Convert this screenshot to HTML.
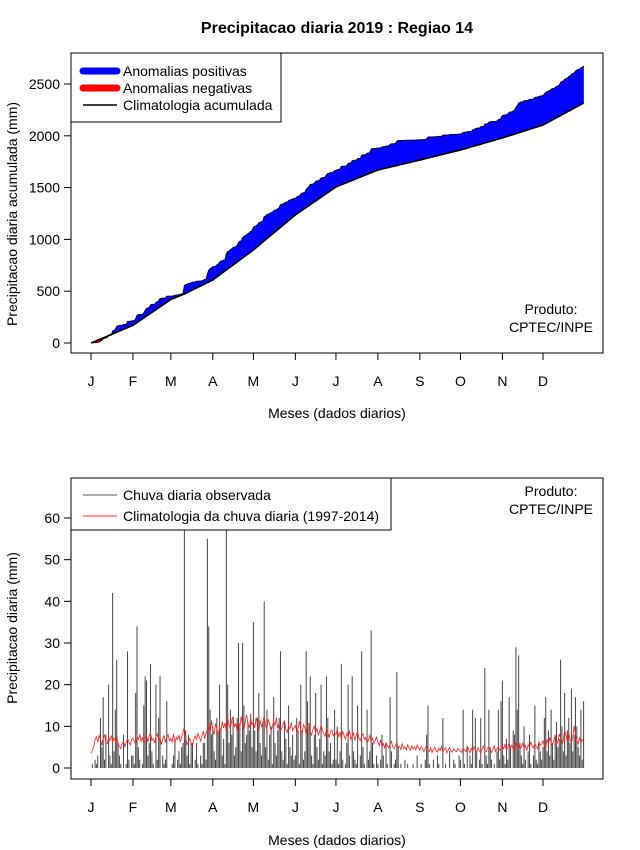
<!DOCTYPE html>
<html><head><meta charset="utf-8"><style>
body{margin:0;background:#fff;}
svg{display:block;font-family:"Liberation Sans",sans-serif;}
</style></head><body>
<svg id="chart" width="640" height="850" xmlns="http://www.w3.org/2000/svg">
<rect width="640" height="850" fill="#fff"/>
<text x="337" y="33" text-anchor="middle" font-size="16" font-weight="bold">Precipitacao diaria 2019 : Regiao 14</text>
<g id="topPanel"></g>
<g id="botPanel"></g>
</svg>
<script>
const monthLabels = ["J","F","M","A","M","J","J","A","S","O","N","D"];
const monthStartDays = [1,32,60,91,121,152,182,213,244,274,305,335];
const topTicks = [0,500,1000,1500,2000,2500];
const botTicks = [0,10,20,30,40,50,60];
const climAccumDays = [1,32,60,70,91,121,152,182,213,244,274,305,335,365];
const climAccum = [0,170,420,473,608,898,1236,1506,1670,1766,1863,1979,2104,2316];
const rain = [
0,1,0,2,1,3,0,12,5,17,2,8,0,20,3,1,42,4,14,26,6,3,1,0,8,0,1,28,2,0,3,
3,1,18,34,5,2,0,1,15,22,21,3,6,25,4,1,0,20,2,12,22,0,3,1,2,16,0,0,
0,1,3,6,0,2,4,1,5,6,75,9,3,8,1,6,6,0,2,6,1,0,3,1,6,6,2,55,34,14,8,
10,4,2,12,8,20,9,3,7,1,60,20,6,14,8,12,3,5,12,30,10,4,30,15,6,8,11,9,13,5,
35,9,4,12,18,6,3,11,40,5,14,2,8,10,1,17,6,3,9,12,28,4,2,11,7,1,15,5,3,8,2,
3,12,9,1,20,9,2,4,28,16,10,22,3,1,8,18,5,2,7,20,1,4,3,22,12,4,6,1,2,14,
2,10,1,4,25,2,0,1,6,20,3,0,22,4,2,1,15,0,3,28,5,1,0,14,2,4,33,6,1,0,3,
1,0,2,8,3,0,6,1,0,17,4,0,1,2,23,5,0,1,0,0,2,0,1,0,0,0,1,0,0,3,0,
0,1,0,0,2,8,15,1,0,0,2,0,0,3,1,0,0,12,0,1,0,0,4,0,0,2,1,0,0,3,
2,0,14,1,0,5,0,3,1,14,0,12,4,0,2,12,1,0,24,3,1,14,5,2,0,1,0,4,14,2,16,
21,3,1,7,2,17,5,0,9,8,29,14,27,6,3,1,10,2,0,4,8,1,0,3,15,2,1,6,4,2,
5,12,17,4,9,3,14,6,2,8,11,5,7,26,10,4,18,3,9,12,6,19,4,8,17,10,5,3,14,2,16];
const clim = [
3.5,4.2,5.1,6.8,7.5,6.2,7.8,6.9,5.4,7.2,7.9,6.1,5.8,7.4,6.6,7.7,6.3,7.1,6.5,7.8,6.0,5.2,4.6,5.9,6.4,5.1,6.2,7.0,6.3,5.5,6.8,
7.2,6.4,5.8,7.6,6.9,8.1,6.3,7.4,5.9,6.8,7.7,6.2,7.9,8.4,6.6,7.1,6.0,7.5,8.2,6.7,7.3,5.6,6.9,7.8,6.1,7.4,8.0,6.5,
7.1,6.3,8.2,5.9,7.4,6.8,7.9,6.2,7.5,8.6,9.8,7.2,5.6,6.3,7.1,6.0,5.4,6.8,7.7,6.9,8.3,7.4,6.5,7.8,8.9,7.0,8.4,9.1,10.2,8.3,11.4,
9.2,8.0,10.6,9.5,7.8,10.1,8.7,11.2,9.6,10.8,8.9,12.1,10.3,9.4,11.6,12.3,9.8,10.7,8.6,11.1,9.9,12.4,10.2,9.1,11.3,12.8,10.5,9.7,11.8,10.4,
11.0,9.6,12.2,10.4,8.9,11.5,9.8,10.9,12.6,10.1,9.3,11.7,10.6,8.8,9.9,11.2,10.3,12.1,9.5,10.8,8.7,9.6,10.5,11.4,9.2,8.5,10.1,9.4,11.0,8.9,9.7,
10.2,8.6,9.5,11.3,9.1,8.3,10.4,9.7,8.1,9.9,10.8,8.7,7.9,9.3,10.1,8.4,9.6,7.8,8.9,10.3,9.0,8.2,7.6,9.4,8.5,7.3,8.8,9.1,7.7,8.3,
8.1,9.2,7.4,8.6,7.0,8.9,7.8,6.9,8.3,7.5,9.0,6.8,7.7,8.4,6.6,7.9,8.8,7.2,6.5,7.6,8.2,6.9,7.3,5.9,6.7,7.8,6.4,7.1,5.8,6.6,7.4,
6.2,5.4,6.8,5.1,5.9,4.7,6.1,5.3,4.8,5.7,6.4,5.0,4.6,5.5,6.0,4.9,5.2,4.4,5.8,4.7,5.1,4.3,5.6,4.9,4.2,5.3,4.6,5.0,4.4,5.5,4.8,
4.3,5.1,4.6,3.9,4.8,5.3,4.4,4.0,4.9,3.7,4.5,5.0,4.1,3.8,4.7,4.2,5.2,3.9,4.4,4.8,3.6,4.3,4.9,4.0,3.8,4.6,4.2,3.9,4.7,4.4,
4.1,3.7,4.8,4.3,3.9,5.2,4.5,3.6,4.7,4.0,5.1,4.4,3.8,4.9,4.2,3.5,4.6,5.3,4.1,3.9,4.8,5.0,4.3,3.7,4.5,5.4,4.0,4.6,5.1,4.2,4.7,
5.2,4.6,5.8,4.3,5.0,6.1,4.8,5.5,4.4,5.3,6.4,4.9,5.7,4.5,5.1,6.0,4.7,5.4,4.2,5.6,4.9,6.2,5.3,4.8,5.9,5.1,4.6,6.3,5.4,5.8,
6.5,5.2,4.8,6.9,5.6,7.4,6.0,5.3,6.8,7.9,5.7,6.4,8.2,7.1,5.5,6.6,9.1,7.8,6.3,8.4,6.9,5.9,7.5,10.2,8.0,6.7,5.8,7.2,6.1,6.8,6.5];

const NS="http://www.w3.org/2000/svg";
function mk(parent, tag, attrs){const e=document.createElementNS(NS,tag);for(const k in attrs)e.setAttribute(k,attrs[k]);parent.appendChild(e);return e;}
const xDay = d => 91 + (d-1)*(543-91)/334;
const yTop = v => 343 - v*(343-84)/2500;
const yBot = v => 768 - v*(768-518)/60;
const gTop=document.getElementById('topPanel'), gBot=document.getElementById('botPanel');

function climAt(d){
  for(let k=0;k<climAccumDays.length-1;k++){
    const d0=climAccumDays[k], d1=climAccumDays[k+1];
    if(d<=d1){const t=(d-d0)/(d1-d0);return climAccum[k]+t*(climAccum[k+1]-climAccum[k]);}
  }
  return climAccum[climAccum.length-1];
}
const cObs=[], cClim=[]; let accA=0;
for(let i=0;i<rain.length;i++){accA+=rain[i];cObs.push(accA);cClim.push(climAt(i+1));}
const anom=mk(gTop,'g',{});


for(let i=0;i<cObs.length-1;i++){
  const x1=xDay(i+1),x2=xDay(i+2);
  const pos=(cObs[i]+cObs[i+1])>=(cClim[i]+cClim[i+1]);
  const p=mk(anom,'polygon',{points:`${x1},${yTop(cObs[i])} ${x2},${yTop(cObs[i+1])} ${x2},${yTop(cClim[i+1])} ${x1},${yTop(cClim[i])}`,fill:pos?'#0000ff':'#ff0000',stroke:pos?'#0000ff':'#ff0000','stroke-width':0.4});
  
  
}
const obsLine=mk(gTop,'polyline',{points:cObs.map((v,i)=>xDay(i+1)+','+yTop(v)).join(' '),fill:'none',stroke:'#000','stroke-width':0.8});


const climLine=mk(gTop,'polyline',{points:cClim.map((v,i)=>xDay(i+1)+','+yTop(v)).join(' '),fill:'none',stroke:'#000','stroke-width':1.6});



const bars=mk(gBot,'g',{});


for(let i=0;i<rain.length;i++){
  if(rain[i]<=0) continue;
  const x=xDay(i+1);
  const l=mk(bars,'line',{x1:x,x2:x,y1:yBot(0),y2:Math.max(yBot(rain[i]),478),stroke:'#444','stroke-width':1});
  
  
}
const climDaily=mk(gBot,'polyline',{points:clim.map((v,i)=>xDay(i+1)+','+yBot(v)).join(' '),fill:'none',stroke:'#ff2020','stroke-width':0.8});



function panel(g, y0, y1, ticks, yf, ytitle, ycenter, xtitleY){
  const f=mk(g,'rect',{x:71,y:y0,width:532,height:y1-y0,fill:'none',stroke:'#000','stroke-width':1});
  
  
  ticks.forEach(t=>{
    const y=yf(t);
    const tl=mk(g,'line',{x1:64,x2:71,y1:y,y2:y,stroke:'#000'});
    
    
    const tx=mk(g,'text',{x:60,y:y+5,'text-anchor':'end','font-size':14});
    tx.textContent=t;
    
    
  });
  monthStartDays.forEach((d,i)=>{
    const x=xDay(d);
    const tl=mk(g,'line',{x1:x,x2:x,y1:y1,y2:y1+7,stroke:'#000'});
    
    
    const tx=mk(g,'text',{x:x,y:y1+33,'text-anchor':'middle','font-size':14});
    tx.textContent=monthLabels[i];
    
    
  });
  const xt=mk(g,'text',{x:337,y:xtitleY,'text-anchor':'middle','font-size':14});
  xt.textContent='Meses (dados diarios)';
  
  
  const yt=mk(g,'text',{x:17,y:ycenter,'text-anchor':'middle','font-size':14,transform:`rotate(-90 17 ${ycenter})`});
  yt.textContent=ytitle;
  
  
}
panel(gTop,53,353,topTicks,yTop,'Precipitacao diaria acumulada (mm)',214,418);
panel(gBot,478,779,botTicks,yBot,'Precipitacao diaria (mm)',628,845);

function credit(g,y){
  const t1=mk(g,'text',{x:551,y:y,'text-anchor':'middle','font-size':14});t1.textContent='Produto:';
  
  
  const t2=mk(g,'text',{x:551,y:y+18,'text-anchor':'middle','font-size':14});t2.textContent='CPTEC/INPE';
  
  
}
credit(gTop,314);credit(gBot,496);

function legend(g,x,y,w,h,items){
  const lg=mk(g,'g',{});
  
  
  mk(lg,'rect',{x:x,y:y,width:w,height:h,fill:'#fff',stroke:'#000'});
  items.forEach(it=>{
    const e=mk(lg,'g',{});
    
    
    mk(e,'line',{x1:x+12,x2:x+46,y1:it.y,y2:it.y,stroke:it.c,'stroke-width':it.w,'stroke-linecap':it.w>3?'round':'butt'});
    const t=mk(e,'text',{x:x+52,y:it.y+5,'font-size':14});t.textContent=it.t;
  });
}
legend(gTop,71,53,210,69,[{y:71,c:'#0000ff',w:7,t:'Anomalias positivas'},{y:88,c:'#ff0000',w:7,t:'Anomalias negativas'},{y:105,c:'#000',w:1.5,t:'Climatologia acumulada'}]);
legend(gBot,71,478,320,52,[{y:495,c:'#555',w:1,t:'Chuva diaria observada'},{y:516,c:'#ff3030',w:1,t:'Climatologia da chuva diaria (1997-2014)'}]);
</script>
</body></html>
